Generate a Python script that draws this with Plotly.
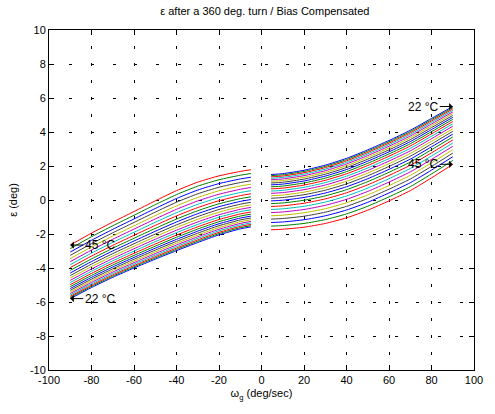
import plotly.graph_objects as go

# Temperatures (deg C), one curve each
temps = list(range(22, 46))

# Left branch (negative rates): x grid and envelope curves
x_left = [-90, -80, -70, -60, -50, -40, -30, -20, -10, -5]
left_22C = [-5.8, -5.15, -4.55, -4.0, -3.48, -2.98, -2.5, -2.05, -1.7, -1.58]
left_45C = [-2.65, -1.95, -1.3, -0.68, -0.05, 0.55, 1.05, 1.42, 1.68, 1.78]

# Right branch (positive rates)
x_right = [4.5, 10, 20, 30, 40, 50, 60, 70, 80, 90]
right_22C = [1.5, 1.55, 1.75, 2.05, 2.45, 2.95, 3.5, 4.1, 4.8, 5.5]
right_45C = [-1.75, -1.72, -1.6, -1.38, -1.05, -0.6, -0.05, 0.55, 1.3, 2.1]

# Relative position of each temperature curve between the 22 C and 45 C curves
rel_pos = [0.0, 0.021, 0.043, 0.068, 0.095, 0.124, 0.155, 0.188, 0.223, 0.260,
           0.300, 0.341, 0.385, 0.430, 0.478, 0.527, 0.579, 0.633, 0.689, 0.747,
           0.807, 0.869, 0.934, 1.0]

# MATLAB classic colour order b, g, r, c, m, y, k
colour_cycle = ["#0000ff", "#008000", "#ff0000", "#00bfbf", "#bf00bf", "#bfbf00", "#404040"]

x_ticks = [-100, -80, -60, -40, -20, 0, 20, 40, 60, 80, 100]
y_ticks = [-10, -8, -6, -4, -2, 0, 2, 4, 6, 8, 10]

fig = go.Figure()
for i, T in enumerate(temps):
    f = rel_pos[i]
    yl = [a + f * (b - a) for a, b in zip(left_22C, left_45C)]
    yr = [a + f * (b - a) for a, b in zip(right_22C, right_45C)]
    fig.add_trace(go.Scatter(
        x=x_left + [None] + x_right,
        y=yl + [None] + yr,
        mode="lines",
        line=dict(color=colour_cycle[i % 7], width=1, shape="spline", smoothing=0.6),
        connectgaps=False,
        showlegend=False,
        name=f"{T} °C",
    ))

font = "Liberation Sans, Arial, Helvetica, sans-serif"
ann_font = dict(family=font, size=12, color="black")
arrow_style = dict(showarrow=True, arrowhead=1, arrowsize=1.2, arrowwidth=1,
                   arrowcolor="black", standoff=0, startstandoff=0, ay=0,
                   yanchor="middle", font=ann_font, axref="pixel", ayref="pixel")
fig.add_annotation(x=x_left[0], y=left_45C[0], text="45 °C", ax=13, xanchor="left",
                   **arrow_style)
fig.add_annotation(x=x_left[0], y=left_22C[0], text="22 °C", ax=13, xanchor="left",
                   **arrow_style)
fig.add_annotation(x=x_right[-1], y=right_22C[-1], text="22 °C", ax=-13, xanchor="right",
                   **arrow_style)
fig.add_annotation(x=x_right[-1], y=right_45C[-1], text="45 °C", ax=-13, xanchor="right",
                   **arrow_style)

axis_common = dict(
    showline=True, linecolor="black", linewidth=1, mirror="ticks",
    ticks="inside", ticklen=5, tickcolor="black", tickwidth=1,
    showgrid=True, gridcolor="black", gridwidth=1,
    zeroline=False, tickfont=dict(family=font, size=11, color="black"),
)

fig.update_layout(
    width=495, height=414,
    margin=dict(l=48, r=13, t=30, b=44),
    paper_bgcolor="white", plot_bgcolor="white",
    title=dict(text="ε after a 360 deg. turn / Bias Compensated",
               x=0.535, xanchor="center", y=0.972, yanchor="middle",
               font=dict(family=font, size=11, color="black")),
    xaxis=dict(range=[-100, 100], tickvals=x_ticks,
               ticktext=[str(v) for v in x_ticks],
               griddash="1.5px,14px,1.5px,0px",
               title=dict(text="ω<sub>g</sub> (deg/sec)", standoff=4,
                          font=dict(family=font, size=11, color="black")),
               **axis_common),
    yaxis=dict(range=[-10, 10], tickvals=y_ticks,
               ticktext=[str(v) for v in y_ticks],
               griddash="1.5px,18.7px,1.5px,0px",
               title=dict(text="ε (deg)", standoff=10,
                          font=dict(family=font, size=11, color="black")),
               **axis_common),
)

fig.write_html("out.html")
